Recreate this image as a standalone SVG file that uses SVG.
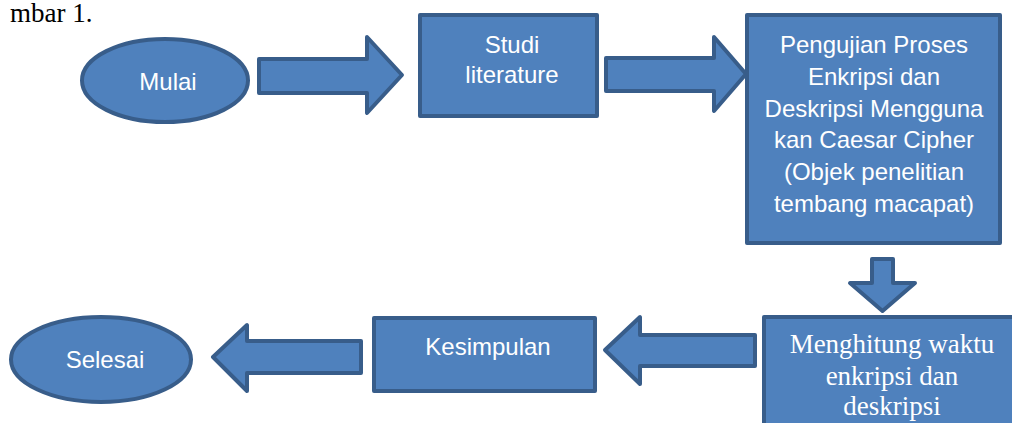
<svg xmlns="http://www.w3.org/2000/svg" width="1012" height="423" viewBox="0 0 1012 423">
<style>
.shape{fill:#4f81bd;stroke:#385d8a;stroke-width:4;stroke-linejoin:round}
.t{fill:#ffffff;font-family:"Liberation Sans",Arial,sans-serif;font-size:24px;text-anchor:middle}
.ts{fill:#ffffff;font-family:"Liberation Serif","Times New Roman",serif;font-size:27px;text-anchor:middle}
.cap{fill:#000000;font-family:"Liberation Serif","Times New Roman",serif;font-size:27px}
</style>
<rect width="1012" height="423" fill="#ffffff"/>
<text class="cap" x="10" y="22">mbar 1.</text>
<g id="connectors">
<polygon class="shape" points="259,59 367,59 367,37 402,75 367,113 367,93 259,93"/>
<polygon class="shape" points="606,58 714,58 714,37 746,74 714,111 714,91 606,91"/>
<polygon class="shape" points="872,259 893,259 893,283 915,283 882.5,311 850,283 872,283"/>
<polygon class="shape" points="605,350 640,317 640,335 755,335 755,366 640,366 640,384"/>
<polygon class="shape" points="213,357 247,325 247,341 361,341 361,373 247,373 247,391"/>
</g>
<g id="mulai">
<ellipse class="shape" cx="165" cy="80.5" rx="83" ry="41.5"/>
<text class="t" x="168" y="90">Mulai</text>
</g>
<g id="studi">
<rect class="shape" x="420" y="15" width="177" height="101"/>
<text class="t" x="512" y="53">Studi</text>
<text class="t" x="512" y="83">literature</text>
</g>
<g id="pengujian">
<rect class="shape" x="747" y="15" width="253" height="228"/>
<text class="t" x="874" y="53">Pengujian Proses</text>
<text class="t" x="874" y="85">Enkripsi dan</text>
<text class="t" x="874" y="117">Deskripsi Mengguna</text>
<text class="t" x="874" y="148">kan Caesar Cipher</text>
<text class="t" x="874" y="180">(Objek penelitian</text>
<text class="t" x="874" y="212">tembang macapat)</text>
</g>
<g id="menghitung">
<rect class="shape" x="764" y="317" width="260" height="120"/>
<text class="ts" x="892" y="353">Menghitung waktu</text>
<text class="ts" x="892" y="385">enkripsi dan</text>
<text class="ts" x="892" y="415">deskripsi</text>
</g>
<g id="kesimpulan">
<rect class="shape" x="374" y="318" width="221" height="73"/>
<text class="t" x="488" y="355">Kesimpulan</text>
</g>
<g id="selesai">
<ellipse class="shape" cx="101" cy="359.5" rx="90" ry="42.5"/>
<text class="t" x="105" y="368">Selesai</text>
</g>
</svg>
